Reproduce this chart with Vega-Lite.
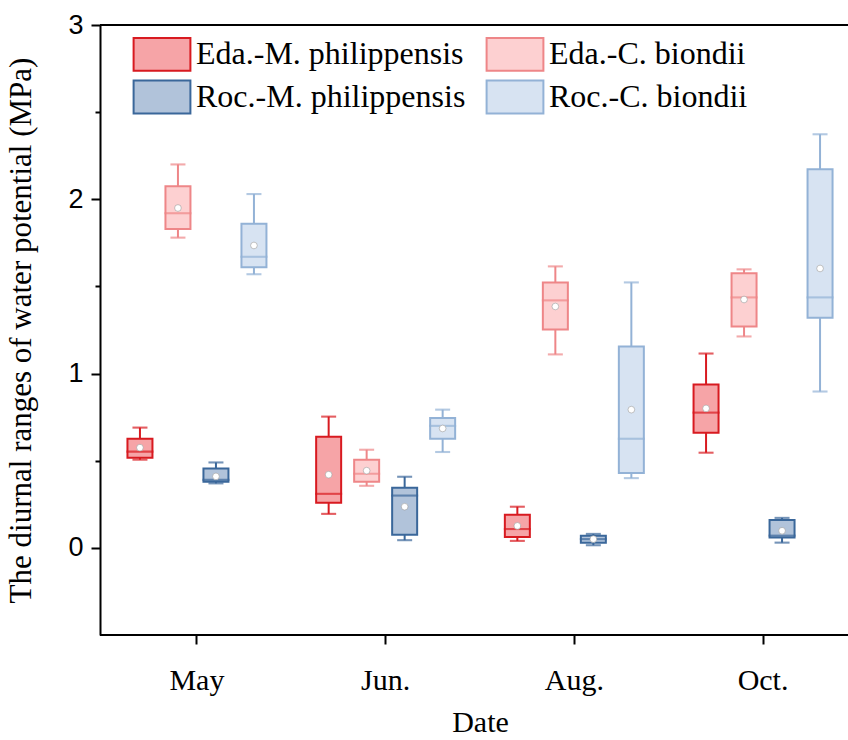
{
  "$schema": "https://vega.github.io/schema/vega-lite/v6.json",
  "width": 748,
  "height": 610,
  "autosize": {"type": "none"},
  "padding": {"left": 100, "top": 25, "right": 0, "bottom": 105},
  "background": "white",
  "config": {
    "view": {"stroke": null},
    "font": "Liberation Serif",
    "axis": {
      "grid": false,
      "domainColor": "black",
      "domainWidth": 2,
      "tickColor": "black",
      "tickWidth": 2,
      "labelColor": "black",
      "titleColor": "black",
      "titleFontWeight": "normal"
    },
    "legend": {
      "columns": 2,
      "padding": 0,
      "gridAlign": "all",
      "symbolType": "M-1.42,-0.82H1.42V0.82H-1.42Z",
      "symbolSize": 1600,
      "symbolStrokeWidth": 2,
      "symbolOpacity": 1,
      "labelFont": "Liberation Serif",
      "labelFontSize": 32,
      "labelColor": "black",
      "labelOffset": 13,
      "labelLimit": 0,
      "columnPadding": 16,
      "rowPadding": 1
    }
  },
  "data": {
    "values": [
      {"month": "May", "group": "Eda.-M. philippensis", "min": 0.506, "q1": 0.517, "median": 0.552, "q3": 0.626, "max": 0.69, "mean": 0.575},
      {"month": "May", "group": "Eda.-C. biondii", "min": 1.78, "q1": 1.83, "median": 1.92, "q3": 2.075, "max": 2.2, "mean": 1.95},
      {"month": "May", "group": "Roc.-M. philippensis", "min": 0.37, "q1": 0.38, "median": 0.39, "q3": 0.455, "max": 0.49, "mean": 0.41},
      {"month": "May", "group": "Roc.-C. biondii", "min": 1.57, "q1": 1.61, "median": 1.67, "q3": 1.86, "max": 2.03, "mean": 1.735},
      {"month": "Jun.", "group": "Eda.-M. philippensis", "min": 0.195, "q1": 0.259, "median": 0.31, "q3": 0.638, "max": 0.753, "mean": 0.42},
      {"month": "Jun.", "group": "Eda.-C. biondii", "min": 0.356, "q1": 0.38, "median": 0.425, "q3": 0.505, "max": 0.563, "mean": 0.443},
      {"month": "Jun.", "group": "Roc.-M. philippensis", "min": 0.044, "q1": 0.075, "median": 0.3, "q3": 0.345, "max": 0.408, "mean": 0.236},
      {"month": "Jun.", "group": "Roc.-C. biondii", "min": 0.55, "q1": 0.626, "median": 0.7, "q3": 0.745, "max": 0.793, "mean": 0.685},
      {"month": "Aug.", "group": "Eda.-M. philippensis", "min": 0.04, "q1": 0.063, "median": 0.108, "q3": 0.19, "max": 0.236, "mean": 0.126},
      {"month": "Aug.", "group": "Eda.-C. biondii", "min": 1.11, "q1": 1.253, "median": 1.42, "q3": 1.523, "max": 1.615, "mean": 1.385},
      {"month": "Aug.", "group": "Roc.-M. philippensis", "min": 0.015, "q1": 0.03, "median": 0.05, "q3": 0.07, "max": 0.08, "mean": 0.05},
      {"month": "Aug.", "group": "Roc.-C. biondii", "min": 0.4, "q1": 0.43, "median": 0.626, "q3": 1.155, "max": 1.523, "mean": 0.793},
      {"month": "Oct.", "group": "Eda.-M. philippensis", "min": 0.546, "q1": 0.66, "median": 0.776, "q3": 0.937, "max": 1.115, "mean": 0.8},
      {"month": "Oct.", "group": "Eda.-C. biondii", "min": 1.213, "q1": 1.27, "median": 1.437, "q3": 1.575, "max": 1.598, "mean": 1.425},
      {"month": "Oct.", "group": "Roc.-M. philippensis", "min": 0.03, "q1": 0.06, "median": 0.07, "q3": 0.16, "max": 0.172, "mean": 0.098},
      {"month": "Oct.", "group": "Roc.-C. biondii", "min": 0.897, "q1": 1.32, "median": 1.437, "q3": 2.172, "max": 2.373, "mean": 1.603}
    ]
  },
  "layer": [
    {
      "encoding": {
        "x": {
          "field": "month",
          "type": "nominal",
          "sort": ["May", "Jun.", "Aug.", "Oct."],
          "scale": {"range": [2.6, 757.4], "paddingInner": 0, "paddingOuter": 0},
          "title": "Date",
          "axis": {
            "domain": false,
            "labelAngle": 0,
            "tickSize": 9,
            "labelFont": "Liberation Serif",
            "labelFontSize": 30,
            "labelPadding": 21,
            "titleFont": "Liberation Serif",
            "titleFontSize": 30,
            "titlePadding": 12
          }
        },
        "xOffset": {
          "field": "group",
          "type": "nominal",
          "sort": ["Eda.-M. philippensis", "Eda.-C. biondii", "Roc.-M. philippensis", "Roc.-C. biondii"],
          "scale": {"paddingInner": 0.342, "paddingOuter": 0.654}
        }
      },
      "layer": [
        {
          "mark": {"type": "rule", "strokeWidth": 2},
          "encoding": {
            "y": {
              "field": "min",
              "type": "quantitative",
              "scale": {"domain": [-0.5, 3], "nice": false, "zero": false},
              "title": "The  diurnal ranges of water potential (MPa)",
              "axis": {
                "orient": "left",
                "values": [0, 1, 2, 3],
                "format": "d",
                "tickSize": 9,
                "labelFont": "Liberation Sans",
                "labelFontSize": 27,
                "labelPadding": 8,
                "titleFont": "Liberation Serif",
                "titleFontSize": 31,
                "titlePadding": 30
              }
            },
            "y2": {"field": "max"},
            "stroke": {
              "field": "group",
              "type": "nominal",
              "title": null,
              "scale": {
                "domain": ["Eda.-M. philippensis", "Roc.-M. philippensis", "Eda.-C. biondii", "Roc.-C. biondii"],
                "range": ["#D81A20", "#3A679A", "#EE8688", "#93B2D6"]
              },
              "legend": {"orient": "none", "legendX": 41, "legendY": 8}
            }
          }
        },
        {
          "mark": {"type": "bar", "strokeWidth": 2},
          "encoding": {
            "y": {"field": "q1", "type": "quantitative"},
            "y2": {"field": "q3"},
            "fill": {
              "field": "group",
              "type": "nominal",
              "title": null,
              "scale": {
                "domain": ["Eda.-M. philippensis", "Roc.-M. philippensis", "Eda.-C. biondii", "Roc.-C. biondii"],
                "range": ["#F6A4A7", "#B1C3DA", "#FDD0D1", "#D7E3F2"]
              },
              "legend": {"orient": "none", "legendX": 41, "legendY": 8}
            },
            "stroke": {"field": "group", "type": "nominal", "title": null}
          }
        },
        {
          "mark": {"type": "tick", "filled": false, "thickness": 0.1, "size": 25, "strokeWidth": 2},
          "encoding": {
            "y": {"field": "median", "type": "quantitative"},
            "stroke": {"field": "group", "type": "nominal", "title": null}
          }
        },
        {
          "mark": {"type": "tick", "filled": false, "thickness": 0.1, "size": 13, "strokeWidth": 2},
          "encoding": {
            "y": {"field": "min", "type": "quantitative"},
            "stroke": {"field": "group", "type": "nominal", "title": null}
          }
        },
        {
          "mark": {"type": "tick", "filled": false, "thickness": 0.1, "size": 13, "strokeWidth": 2},
          "encoding": {
            "y": {"field": "max", "type": "quantitative"},
            "stroke": {"field": "group", "type": "nominal", "title": null}
          }
        },
        {
          "mark": {"type": "point", "shape": "circle", "filled": true, "fill": "white", "stroke": "#9a9a9a", "strokeWidth": 0.6, "size": 45, "opacity": 1},
          "encoding": {
            "y": {"field": "mean", "type": "quantitative"}
          }
        }
      ]
    },
    {
      "mark": {"type": "rule", "color": "black", "strokeWidth": 2},
      "encoding": {
        "y": {
          "datum": 3,
          "type": "quantitative",
          "axis": {
            "orient": "left",
            "values": [0.5, 1.5, 2.5],
            "domain": false,
            "labels": false,
            "tickSize": 5,
            "title": null
          }
        }
      }
    },
    {
      "mark": {"type": "rule", "color": "black", "strokeWidth": 2},
      "encoding": {
        "y": {"datum": -0.5, "type": "quantitative", "axis": null}
      }
    }
  ],
  "resolve": {"axis": {"y": "independent"}}
}
